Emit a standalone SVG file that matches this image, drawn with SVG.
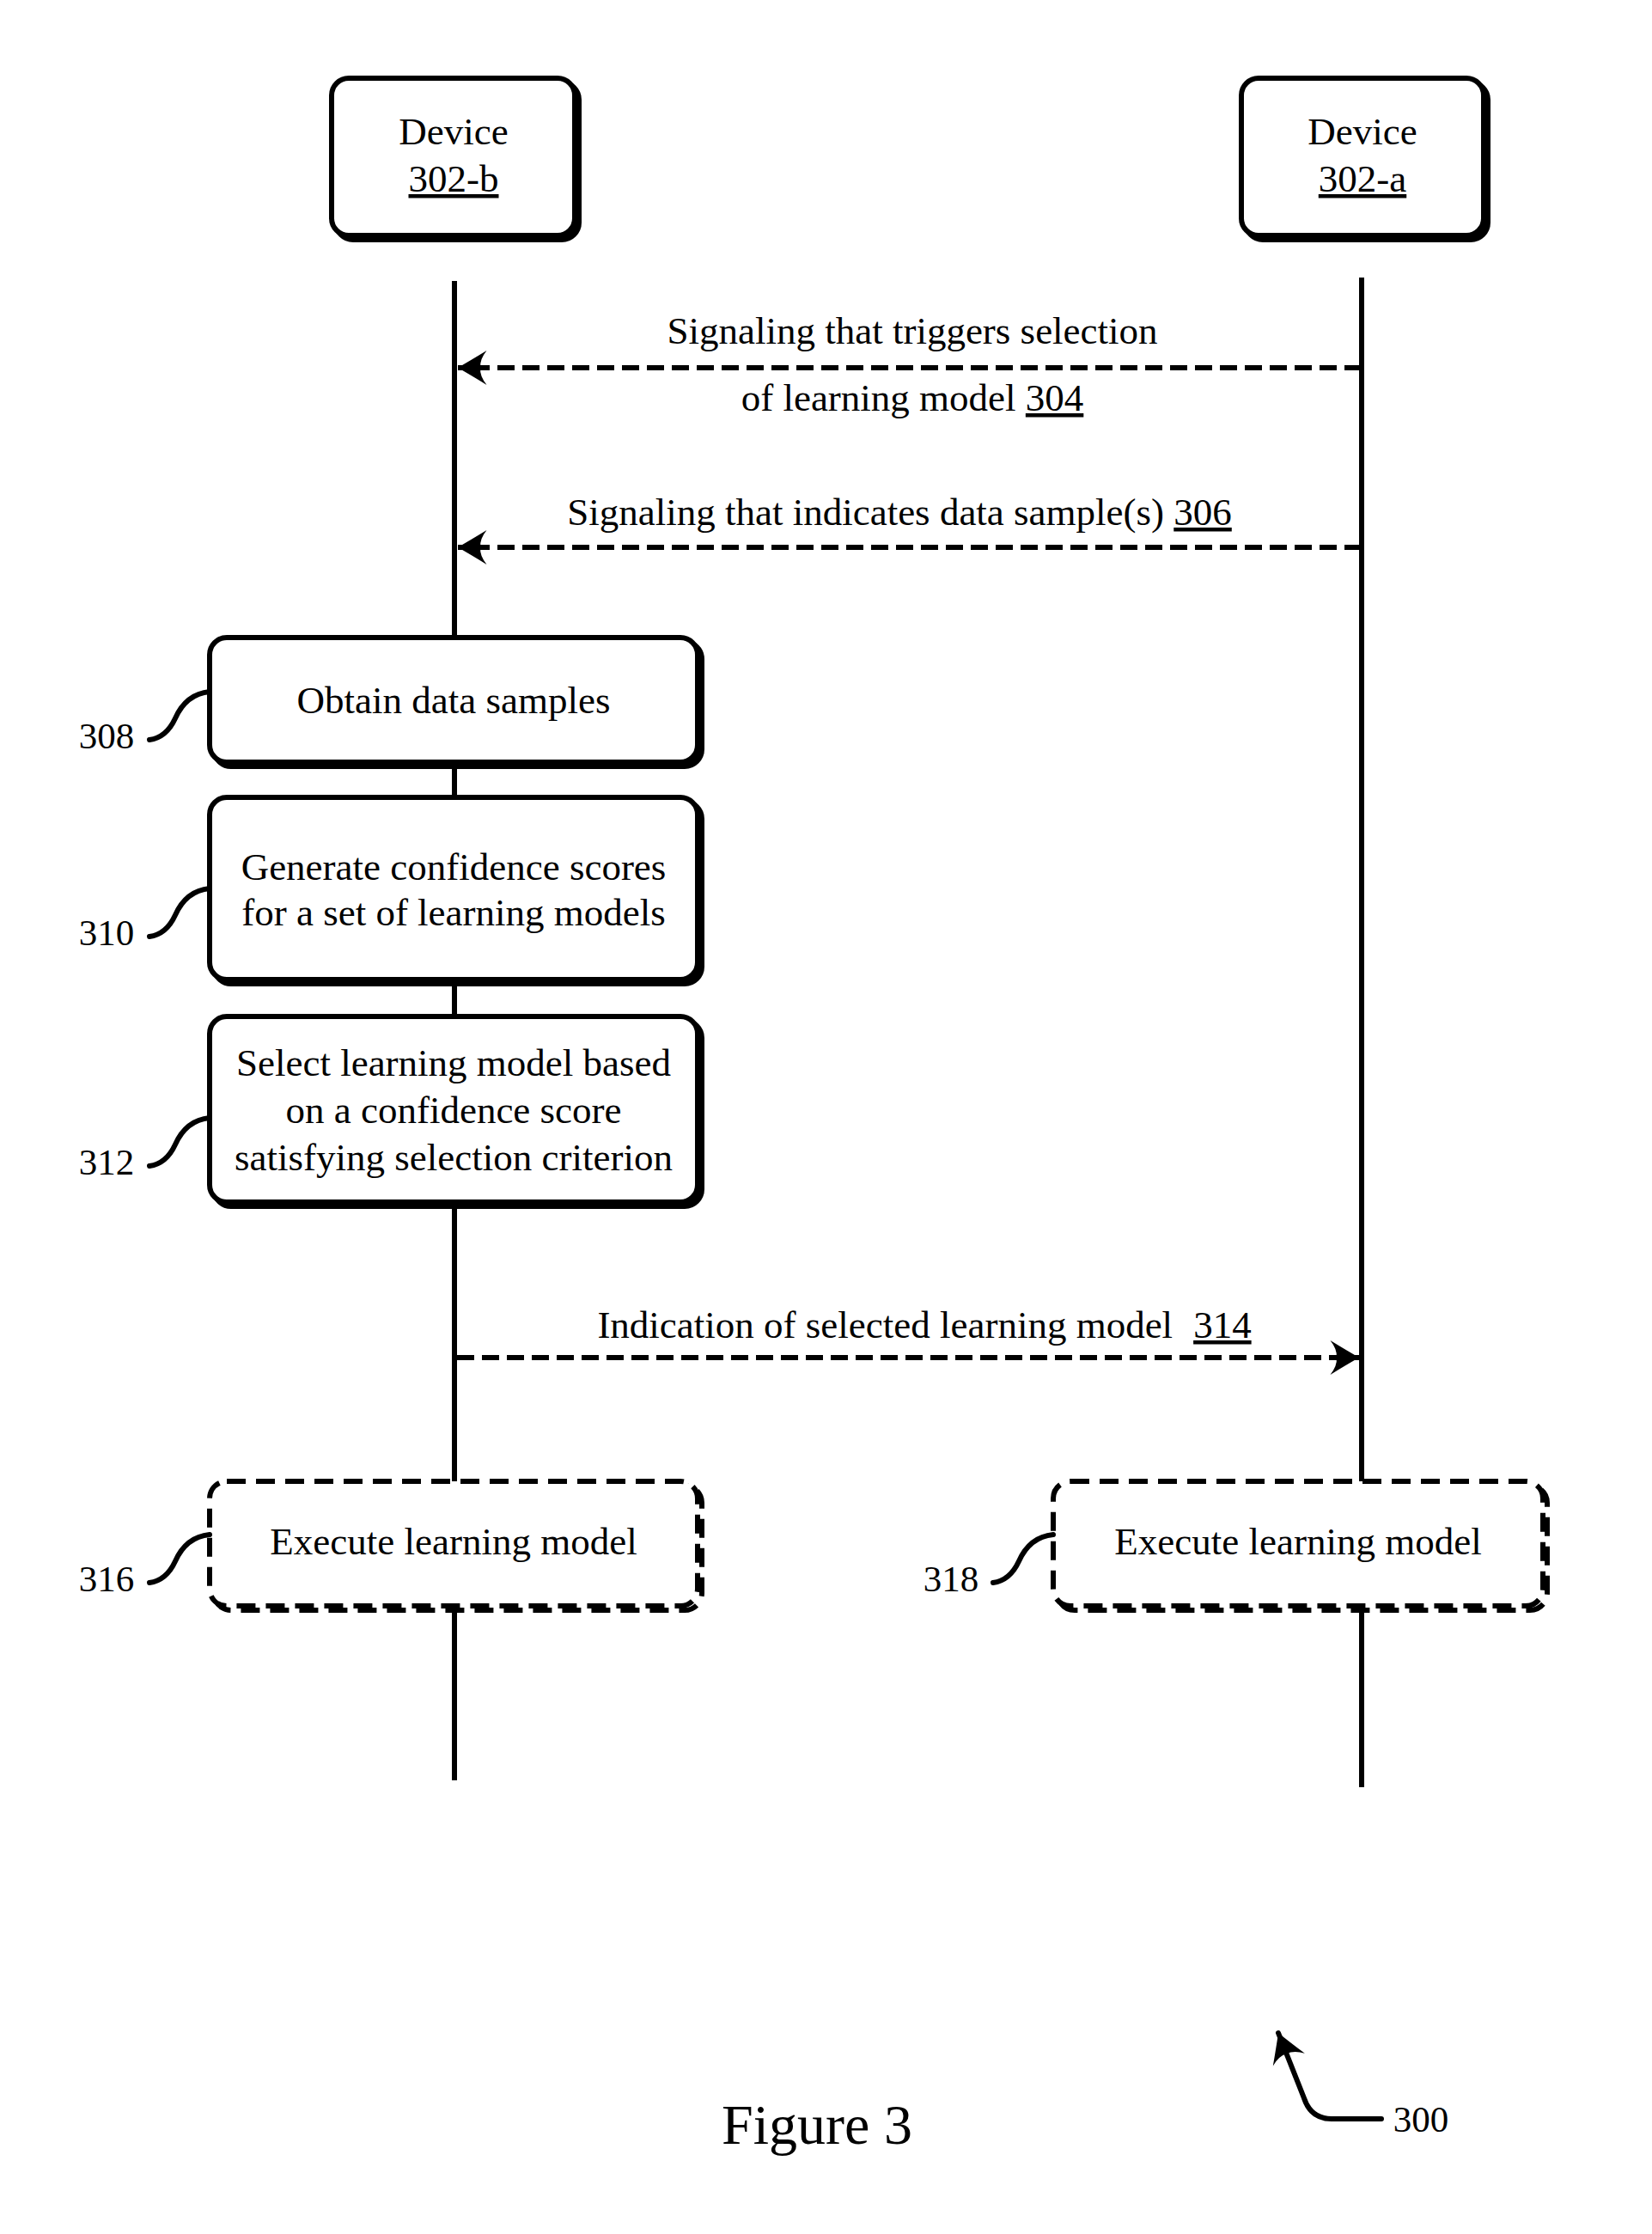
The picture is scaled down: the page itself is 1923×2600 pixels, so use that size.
<svg xmlns="http://www.w3.org/2000/svg" width="1923" height="2600" viewBox="0 0 1923 2600">
<style>
  text { font-family: "Liberation Serif", "Times New Roman", serif; fill: #000; }
  .t { font-size: 45px; text-anchor: middle; }
  .lbl { font-size: 43px; text-anchor: middle; }
  .box { fill: #fff; stroke: #000; stroke-width: 6; }
  .shadow { fill: #000; stroke: #000; stroke-width: 6; }
  .dbox { fill: #fff; stroke: #000; stroke-width: 6; stroke-dasharray: 22 12; }
  .dshadow { fill: none; stroke: #000; stroke-width: 6; stroke-dasharray: 22 12; }
  .life { stroke: #000; stroke-width: 6; fill: none; }
  .msg { stroke: #000; stroke-width: 6; fill: none; stroke-dasharray: 20 9; }
  .lead { stroke: #000; stroke-width: 6; fill: none; stroke-linecap: round; }
</style>
<defs>
  <marker id="ah" markerUnits="userSpaceOnUse" markerWidth="44" markerHeight="44" viewBox="-2 -21 36 42" refX="32" refY="0" orient="auto">
    <path d="M32,0 Q18,-8 0,-19 Q8,-9 7,0 Q8,9 0,19 Q18,8 32,0 Z" fill="#000"/>
  </marker>
</defs>
<rect width="1923" height="2600" fill="#fff"/>

<g id="lifelines">
  <line class="life" x1="529" y1="327" x2="529" y2="2072"/>
  <line class="life" x1="1585" y1="323" x2="1585" y2="2080"/>
</g>

<g id="connectors">
  <line class="msg" x1="1585" y1="428" x2="533" y2="428" marker-end="url(#ah)"/>
  <line class="msg" x1="1585" y1="637" x2="533" y2="637" marker-end="url(#ah)"/>
  <line class="msg" x1="532" y1="1580" x2="1582" y2="1580" marker-end="url(#ah)"/>
</g>

<g id="device-302-b">
  <rect class="shadow" x="391" y="96" width="283" height="183" rx="20"/>
  <rect class="box" x="386" y="91" width="283" height="183" rx="20"/>
  <text class="t" x="528" y="168">Device</text>
  <text class="t" x="528" y="223" text-decoration="underline">302-b</text>
</g>

<g id="device-302-a">
  <rect class="shadow" x="1450" y="96" width="282" height="183" rx="20"/>
  <rect class="box" x="1445" y="91" width="282" height="183" rx="20"/>
  <text class="t" x="1586" y="168">Device</text>
  <text class="t" x="1586" y="223" text-decoration="underline">302-a</text>
</g>

<g id="msg-304">
  <text class="t" x="1062" y="400">Signaling that triggers selection</text>
  <text class="t" x="1062" y="478">of learning model <tspan text-decoration="underline">304</tspan></text>
</g>

<g id="msg-306">
  <text class="t" x="1047" y="611">Signaling that indicates data sample(s) <tspan text-decoration="underline">306</tspan></text>
</g>

<g id="step-308">
  <rect class="shadow" x="249" y="747" width="568" height="145" rx="20"/>
  <rect class="box" x="244" y="742" width="568" height="145" rx="20"/>
  <text class="t" x="528" y="830">Obtain data samples</text>
  <path class="lead" d="M174,861 c15,-2 24,-12 30,-25 c8,-18 20,-29 40,-31"/>
  <text class="lbl" x="124" y="871">308</text>
</g>

<g id="step-310">
  <rect class="shadow" x="249" y="933" width="568" height="212" rx="20"/>
  <rect class="box" x="244" y="928" width="568" height="212" rx="20"/>
  <text class="t" x="528" y="1024">Generate confidence scores</text>
  <text class="t" x="528" y="1077">for a set of learning models</text>
  <path class="lead" d="M174,1090 c15,-2 24,-12 30,-25 c8,-18 20,-29 40,-31"/>
  <text class="lbl" x="124" y="1100">310</text>
</g>

<g id="step-312">
  <rect class="shadow" x="249" y="1188" width="568" height="216" rx="20"/>
  <rect class="box" x="244" y="1183" width="568" height="216" rx="20"/>
  <text class="t" x="528" y="1252">Select learning model based</text>
  <text class="t" x="528" y="1307">on a confidence score</text>
  <text class="t" x="528" y="1362">satisfying selection criterion</text>
  <path class="lead" d="M174,1357 c15,-2 24,-12 30,-25 c8,-18 20,-29 40,-31"/>
  <text class="lbl" x="124" y="1367">312</text>
</g>

<g id="msg-314">
  <text class="t" x="1076" y="1557">Indication of selected learning model<tspan dx="24" text-decoration="underline">314</tspan></text>
</g>

<g id="step-316">
  <rect class="dshadow" x="249" y="1729" width="568" height="145" rx="20"/>
  <rect class="dbox" x="244" y="1724" width="568" height="145" rx="20"/>
  <text class="t" x="528" y="1809">Execute learning model</text>
  <path class="lead" d="M174,1842 c15,-2 24,-12 30,-25 c8,-18 20,-29 40,-31"/>
  <text class="lbl" x="124" y="1852">316</text>
</g>

<g id="step-318">
  <rect class="dshadow" x="1231" y="1729" width="570" height="145" rx="20"/>
  <rect class="dbox" x="1226" y="1724" width="570" height="145" rx="20"/>
  <text class="t" x="1511" y="1809">Execute learning model</text>
  <path class="lead" d="M1156,1842 c15,-2 24,-12 30,-25 c8,-18 20,-29 40,-31"/>
  <text class="lbl" x="1107" y="1852">318</text>
</g>

<g id="figure-label">
  <text x="951" y="2495" style="font-size:66px;text-anchor:middle">Figure 3</text>
</g>

<g id="ref-300">
  <path class="lead" d="M1608,2466 L1550,2466 Q1526,2466 1518,2442 L1488,2366" marker-end="url(#ah)"/>
  <text class="lbl" x="1654" y="2481">300</text>
</g>
</svg>
